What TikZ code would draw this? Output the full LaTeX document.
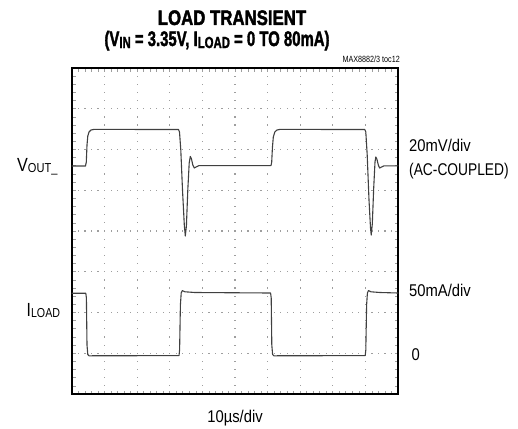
\documentclass[tikz,border=0pt]{standalone}
\usepackage{fontspec}
\usepackage{graphicx}
\setmainfont{Liberation Sans}
\newfontfamily\titlefont{Liberation Sans Bold}[FakeBold=2.2]
\newcommand{\hsc}[2]{\scalebox{#1}[1]{#2}}
\definecolor{gridc}{gray}{0.62}
\definecolor{tracec}{gray}{0.25}
\tikzset{
  lbl/.style={inner sep=0pt, font=\fontsize{17}{17}\selectfont},
  ttl/.style={inner sep=0pt, font=\titlefont\fontsize{21}{21}\selectfont},
  trace/.style={draw=tracec, line width=1.1pt, line join=round, line cap=round},
  frame/.style={draw=black, line width=2.2pt}
}
\begin{document}
\begin{tikzpicture}[x=1pt,y=-1pt]
\useasboundingbox (0,0) rectangle (518,428);
% grid dots
\foreach \i in {1,...,9}{
  \foreach \j in {1,...,39}{
    \fill[gridc] ({72+32.6*\i-0.6},{68+8.15*\j-0.6}) rectangle ++(1.2,1.2);
  }
}
\foreach \j in {1,...,7}{
  \foreach \k in {1,...,49}{
    \fill[gridc] ({72+6.52*\k-0.6},{68+40.75*\j-0.6}) rectangle ++(1.2,1.2);
  }
}
% edge ticks
\foreach \k in {1,...,49}{
  \draw[gridc, line width=0.7pt] ({72+6.52*\k},69) -- ++(0,2.5);
  \draw[gridc, line width=0.7pt] ({72+6.52*\k},393) -- ++(0,-2.5);
}
\foreach \j in {1,...,39}{
  \draw[gridc, line width=0.7pt] (73,{68+8.15*\j}) -- ++(2.5,0);
  \draw[gridc, line width=0.7pt] (397,{68+8.15*\j}) -- ++(-2.5,0);
}
% frame
\draw[frame] (72,68) rectangle (398,394);
% VOUT trace
\draw[trace] (72,166) -- (85.5,166) -- (86.3,162) -- (87,145) -- (87.8,136) -- (89,132) -- (91,130) -- (94,129.4)
  -- (178.5,129.5) -- (179.5,132) -- (180.8,150) -- (182.5,190) -- (184.3,225) -- (185.3,236)
  -- (186.4,226) -- (187.8,190) -- (189.2,163) -- (190.3,156.5) -- (191.5,159) -- (192.8,165) -- (194.3,168)
  -- (196,167) -- (199,165.6) -- (271,165.6) -- (271.7,162) -- (272.4,148) -- (273.3,137) -- (274.8,132)
  -- (277,130) -- (280,129.4) -- (364.8,129.5) -- (365.8,132) -- (367.2,155) -- (369,200) -- (370.5,228) -- (371.2,235)
  -- (372.3,224) -- (373.7,188) -- (375,162) -- (375.8,157) -- (377,159.5) -- (378.3,165) -- (379.6,168)
  -- (381.5,167) -- (384,165.8) -- (398,165.8);
% ILOAD trace
\draw[trace] (72,293.2) -- (85.8,293.2) -- (86.4,298) -- (87,345) -- (87.8,354.5) -- (89,355.8) -- (179,355.6)
  -- (179.6,350) -- (180.4,305) -- (181.2,293) -- (182.3,290.6) -- (185,291.8) -- (195,292.5) -- (270.6,293)
  -- (271.2,298) -- (271.8,345) -- (272.6,354.5) -- (274,355.8) -- (365.2,355.6)
  -- (365.8,350) -- (366.6,305) -- (367.4,293) -- (368.5,290.6) -- (371,291.8) -- (380,292.5) -- (398,293);
% titles
\node[ttl, anchor=base] (title1) at (232,25) {\hsc{0.8}{LOAD TRANSIENT}};
\node[ttl, anchor=base] (title2) at (217,46) {\hsc{0.71}{(V\raisebox{-2pt}{\fontsize{16}{16}\selectfont IN} = 3.35V, I\raisebox{-2pt}{\fontsize{16}{16}\selectfont LOAD} = 0 TO 80mA)}};
\node[inner sep=0pt, anchor=base east, font=\fontsize{9}{9}\selectfont] (toc) at (400,63) {\hsc{0.8}{MAX8882/3 toc12}};
% left labels
\node[inner sep=0pt, anchor=base west, font=\fontsize{19}{19}\selectfont] (vout) at (17,171.5)
  {\hsc{0.85}{V\raisebox{-1pt}{\fontsize{13}{13}\selectfont OUT\_}}};
\node[inner sep=0pt, anchor=base west, font=\fontsize{19}{19}\selectfont] (iload) at (26.5,316)
  {\hsc{0.82}{I\raisebox{-1.5pt}{\fontsize{13}{13}\selectfont LOAD}}};
% right labels
\node[lbl, anchor=base west] (vscale) at (409,151.3) {\hsc{0.87}{20mV/div}};
\node[lbl, anchor=base west] (acc) at (409,175) {\hsc{0.81}{(AC-COUPLED)}};
\node[lbl, anchor=base west] (iscale) at (409,296.7) {\hsc{0.87}{50mA/div}};
\node[lbl, anchor=base west] (zero) at (411.5,360) {\hsc{0.87}{0}};
% bottom label
\node[lbl, anchor=base] (tscale) at (235,422.7) {\hsc{0.87}{10µs/div}};
\end{tikzpicture}
\end{document}
